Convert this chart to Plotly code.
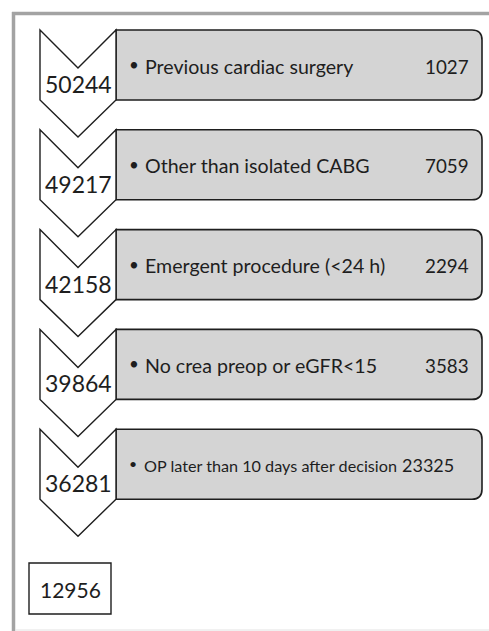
import plotly.graph_objects as go

# ---- data ----
remaining = [50244, 49217, 42158, 39864, 36281]
criteria = [
    "Previous cardiac surgery",
    "Other than isolated CABG",
    "Emergent procedure (<24 h)",
    "No crea preop or eGFR<15",
    "OP later than 10 days after decision",
]
excluded = [1027, 7059, 2294, 3583, 23325]
final_n = 12956

W, H = 489, 631
FONT = "Lato"
INK = "#1e1e1e"

fig = go.Figure()
shapes = []
annotations = []

x0, xc, x1 = 40, 78, 116      # chevron left / center / right
bx1 = 482                      # box right edge
r = 10                         # corner radius
pitch = 99.8
top0 = 30

for i, (n, lab, ex) in enumerate(zip(remaining, criteria, excluded)):
    t = top0 + i * pitch
    b = t + 70
    # grey rounded box (right corners rounded)
    shapes.append(dict(
        type="path", xref="x", yref="y",
        path=f"M {x1},{t} L {bx1-r},{t} Q {bx1},{t} {bx1},{t+r} L {bx1},{b-r} "
             f"Q {bx1},{b} {bx1-r},{b} L {x1},{b} Z",
        fillcolor="#d4d4d4", line=dict(color=INK, width=1.6), layer="above"))
    # white chevron
    shapes.append(dict(
        type="path", xref="x", yref="y",
        path=f"M {x0},{t} L {xc},{t+38} L {x1},{t} L {x1},{b} L {xc},{b+37} L {x0},{b} Z",
        fillcolor="white", line=dict(color=INK, width=1.4), layer="above"))
    # count inside chevron
    annotations.append(dict(x=xc, y=t + 54, xref="x", yref="y", text=str(n),
                            showarrow=False, xanchor="center", yanchor="middle",
                            font=dict(family=FONT, size=23, color=INK)))
    last = i == len(remaining) - 1
    # bullet + criterion
    annotations.append(dict(x=(132.5 if last else 134), y=t + 34.5, xref="x", yref="y", text="•",
                            showarrow=False, xanchor="center", yanchor="middle",
                            font=dict(family=FONT, size=(14 if last else 17), color=INK)))
    annotations.append(dict(x=(141.5 if last else 142.5), y=t + 36, xref="x", yref="y", text=lab,
                            showarrow=False, xanchor="left", yanchor="middle",
                            font=dict(family=FONT, size=(16.2 if last else 19.6), color=INK)))
    # excluded count
    annotations.append(dict(x=(456 if last else 471), y=t + 36, xref="x", yref="y", text=str(ex),
                            showarrow=False, xanchor="right", yanchor="middle",
                            font=dict(family=FONT, size=(18 if last else 18.8), color=INK)))

# final box
shapes.append(dict(type="rect", xref="x", yref="y", x0=29, x1=111, y0=563, y1=614,
                   fillcolor="white", line=dict(color=INK, width=1.4)))
annotations.append(dict(x=70, y=589, xref="x", yref="y", text=str(final_n),
                        showarrow=False, xanchor="center", yanchor="middle",
                        font=dict(family=FONT, size=21, color=INK)))

# outer frame
shapes.append(dict(type="line", xref="x", yref="y", x0=12, x1=W + 5, y0=13.5, y1=13.5,
                   line=dict(color="#a3a3a3", width=3.5)))
shapes.append(dict(type="line", xref="x", yref="y", x0=13.5, x1=13.5, y0=12, y1=H + 5,
                   line=dict(color="#a3a3a3", width=3.5)))
shapes.append(dict(type="line", xref="x", yref="y", x0=15, x1=W + 5, y0=630, y1=630,
                   line=dict(color="#e2e2e2", width=1)))

fig.update_layout(
    width=W, height=H,
    margin=dict(l=0, r=0, t=0, b=0),
    paper_bgcolor="white", plot_bgcolor="white",
    xaxis=dict(range=[0, W], visible=False, fixedrange=True),
    yaxis=dict(range=[H, 0], visible=False, fixedrange=True),
    shapes=shapes, annotations=annotations,
    showlegend=False,
)
fig.write_html("out.html", config={"displayModeBar": False},
               post_script="document.body.style.margin='0px';document.body.style.overflow='hidden';")
